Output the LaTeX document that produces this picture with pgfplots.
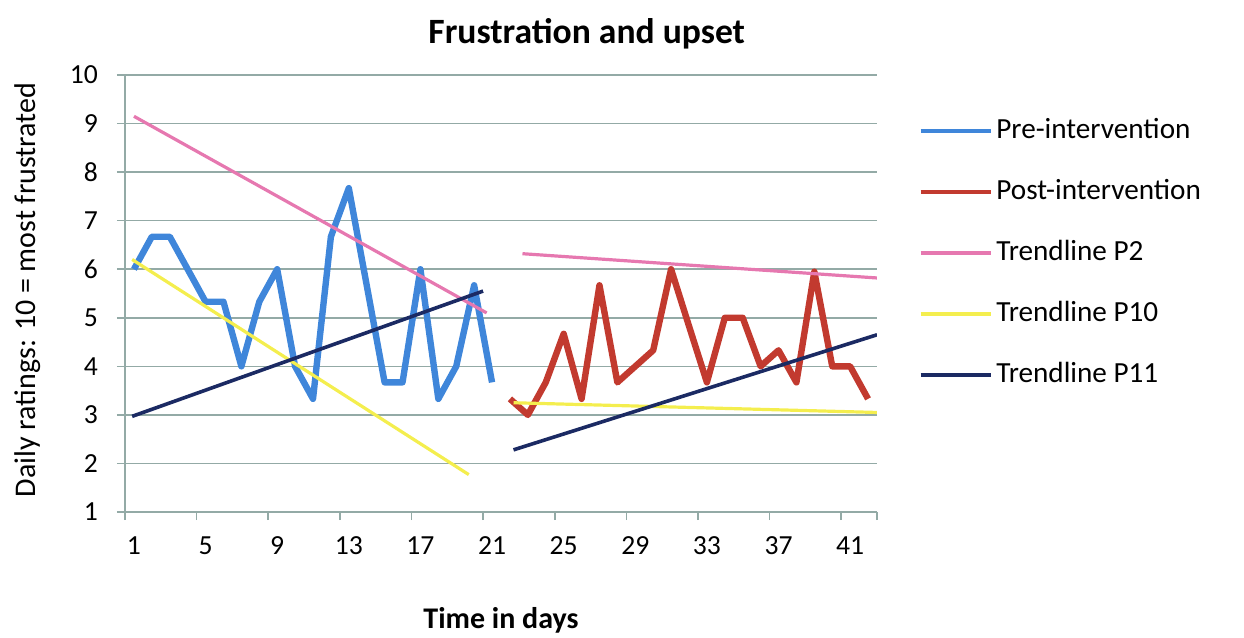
\documentclass[border=0pt]{standalone}
\usepackage{fontspec}
\setmainfont{Carlito}
\usepackage{pgfplots}
\pgfplotsset{compat=1.18}

\definecolor{preblue}{HTML}{3F86DA}
\definecolor{postred}{HTML}{C23A2F}
\definecolor{trpink}{HTML}{E678B0}
\definecolor{tryellow}{HTML}{F4EE4E}
\definecolor{trnavy}{HTML}{1B2A63}
\definecolor{gridc}{HTML}{93AAA6}

\begin{document}
\begin{tikzpicture}
\useasboundingbox (-62.5pt,-63pt) rectangle (559.5pt,256pt); % 1 px of the reference = 0.5pt
\begin{axis}[
    scale only axis,
    width=376pt, height=218.5pt,
    xmin=0.5, xmax=42.5,
    ymin=1, ymax=10,
    axis x line*=bottom,
    axis y line*=left,
    axis line style={gridc, line width=0.8pt},
    ytick={1,...,10},
    ymajorgrids,
    major grid style={gridc, line width=0.8pt},
    xtick={1,5,...,41},
    major x tick style={draw=none},
    extra x ticks={0.5,4.5,...,40.5,42.5},
    extra x tick labels={},
    extra x tick style={major x tick style={draw=gridc, line width=0.8pt}},
    tick align=outside,
    major tick length=4pt,
    ytick style={gridc, line width=0.8pt},
    tick label style={font=\fontsize{13.8}{16}\selectfont},
    /pgf/number format/assume math mode=true,
    yticklabel style={xshift=-6pt},
    xticklabel style={yshift=-5pt},
    title={\textbf{Frustration and upset}},
    title style={at={(axis description cs:0.614,1.066)}, anchor=center,
        font=\fontsize{17.8}{20}\selectfont},
    xlabel={\textbf{Time in days}},
    xlabel style={at={(axis description cs:0.5,-0.247)}, anchor=center,
        font=\fontsize{15}{18}\selectfont},
    ylabel={Daily ratings: 10 = most frustrated},
    ylabel style={at={(axis description cs:-0.129,0.508)}, anchor=center,
        font=\fontsize{15}{18}\selectfont},
    unbounded coords=jump,
    legend cell align=left,
    legend image code/.code={\draw[#1, line width=1.8pt] (0pt,0pt) -- (35pt,0pt);},
    legend style={at={(1.055,0.904)}, anchor=north west, draw=none, fill=none,
        inner sep=0pt, row sep=17pt, column sep=2pt,
        font=\fontsize{14.6}{17}\selectfont,
        nodes={inner sep=0pt, text height=10.5pt, text depth=3pt}},
]
% pre-intervention, days 1-21
\addplot[preblue, line width=3.2pt, line join=round] coordinates {
    (1,6.0) (2,6.67) (3,6.67) (4,6.0) (5,5.33) (6,5.33) (7,4.0) (8,5.33)
    (9,6.0) (10,4.0) (11,3.33) (12,6.67) (13,7.67) (14,5.67) (15,3.67)
    (16,3.67) (17,6.0) (18,3.33) (19,4.0) (20,5.67) (21,3.67)};
% post-intervention, days 22-42
\addplot[postred, line width=3.2pt, line join=round] coordinates {
    (22,3.33) (23,3.0) (24,3.67) (25,4.67) (26,3.33) (27,5.67) (28,3.67)
    (29,4.0) (30,4.33) (31,6.0) (32,4.83) (33,3.67) (34,5.0) (35,5.0)
    (36,4.0) (37,4.33) (38,3.67) (39,5.95) (40,4.0) (41,4.0) (42,3.33)};
% trendlines (pre and post segments)
\addplot[trpink, line width=1.6pt] coordinates {
    (1,9.15) (20.7,5.1) (21.5,nan) (22.7,6.32) (42.5,5.82)};
\addplot[tryellow, line width=1.6pt] coordinates {
    (0.9,6.2) (19.7,1.77) (21.5,nan) (22.2,3.25) (42.5,3.05)};
\addplot[trnavy, line width=1.8pt] coordinates {
    (0.9,2.97) (20.5,5.55) (21.5,nan) (22.2,2.28) (42.5,4.65)};
\legend{Pre-intervention,Post-intervention,Trendline P2,Trendline P10,Trendline P11}
\end{axis}
\end{tikzpicture}
\end{document}
